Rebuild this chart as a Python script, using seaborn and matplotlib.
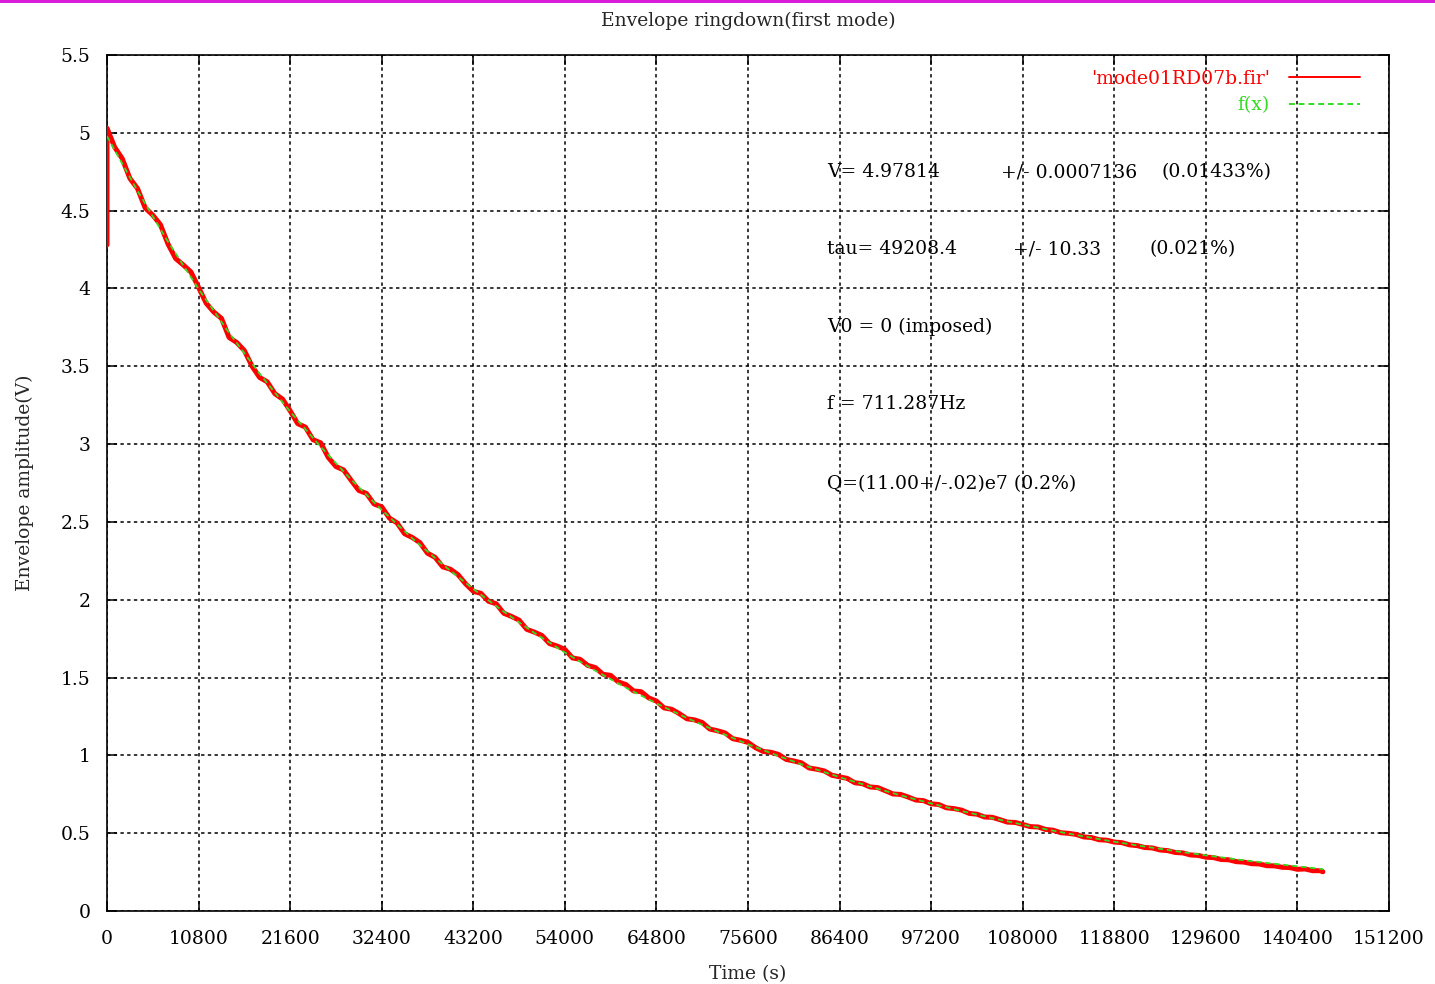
import matplotlib
matplotlib.use("Agg")
import matplotlib.pyplot as plt
from matplotlib.patches import Rectangle
import seaborn as sns
import pandas as pd

# Measured envelope: time (s) and amplitude (V)
time_s = [0, 0, 900, 1800, 2700, 3600, 4500, 5400, 6300, 7200, 8100,
          9000, 9900, 10800, 11700, 12600, 13500, 14400, 15300, 16200, 17100,
          18000, 18900, 19800, 20700, 21600, 22500, 23400, 24300, 25200, 26100,
          27000, 27900, 28800, 29700, 30600, 31500, 32400, 33300, 34200, 35100,
          36000, 36900, 37800, 38700, 39600, 40500, 41400, 42300, 43200, 44100,
          45000, 45900, 46800, 47700, 48600, 49500, 50400, 51300, 52200, 53100,
          54000, 54900, 55800, 56700, 57600, 58500, 59400, 60300, 61200, 62100,
          63000, 63900, 64800, 65700, 66600, 67500, 68400, 69300, 70200, 71100,
          72000, 72900, 73800, 74700, 75600, 76500, 77400, 78300, 79200, 80100,
          81000, 81900, 82800, 83700, 84600, 85500, 86400, 87300, 88200, 89100,
          90000, 90900, 91800, 92700, 93600, 94500, 95400, 96300, 97200, 98100,
          99000, 99900, 100800, 101700, 102600, 103500, 104400, 105300, 106200, 107100,
          108000, 108900, 109800, 110700, 111600, 112500, 113400, 114300, 115200, 116100,
          117000, 117900, 118800, 119700, 120600, 121500, 122400, 123300, 124200, 125100,
          126000, 126900, 127800, 128700, 129600, 130500, 131400, 132300, 133200, 134100,
          135000, 135900, 136800, 137700, 138600, 139500, 140400, 141300, 142200, 143100,
          143400]
amplitude_v = [4.28, 5.03, 4.908, 4.834, 4.707, 4.642, 4.518, 4.471, 4.410, 4.285, 4.192,
               4.151, 4.106, 4.007, 3.905, 3.848, 3.808, 3.685, 3.653, 3.601, 3.501,
               3.428, 3.400, 3.324, 3.289, 3.214, 3.131, 3.109, 3.028, 3.008, 2.914,
               2.856, 2.834, 2.767, 2.702, 2.683, 2.615, 2.597, 2.525, 2.494, 2.424,
               2.400, 2.367, 2.299, 2.272, 2.211, 2.196, 2.161, 2.102, 2.054, 2.041,
               1.990, 1.974, 1.913, 1.893, 1.869, 1.810, 1.792, 1.770, 1.718, 1.702,
               1.681, 1.626, 1.617, 1.578, 1.564, 1.521, 1.514, 1.472, 1.455, 1.414,
               1.409, 1.369, 1.349, 1.305, 1.296, 1.268, 1.235, 1.228, 1.211, 1.169,
               1.158, 1.144, 1.107, 1.097, 1.083, 1.049, 1.025, 1.020, 1.006, 0.974,
               0.964, 0.952, 0.919, 0.911, 0.900, 0.872, 0.862, 0.852, 0.824, 0.818,
               0.797, 0.793, 0.773, 0.752, 0.749, 0.732, 0.713, 0.709, 0.689, 0.684,
               0.663, 0.658, 0.648, 0.627, 0.622, 0.604, 0.602, 0.587, 0.571, 0.569,
               0.556, 0.542, 0.540, 0.524, 0.519, 0.503, 0.499, 0.492, 0.476, 0.472,
               0.458, 0.455, 0.443, 0.439, 0.425, 0.420, 0.408, 0.405, 0.392, 0.388,
               0.376, 0.373, 0.360, 0.357, 0.346, 0.343, 0.331, 0.329, 0.317, 0.314,
               0.304, 0.302, 0.291, 0.290, 0.281, 0.279, 0.268, 0.270, 0.259, 0.259,
               0.252]

# Fitted exponential f(x)
fit_time_s = [0, 3600, 7200, 10800, 14400, 18000, 21600, 25200, 28800, 32400,
              36000, 39600, 43200, 46800, 50400, 54000, 57600, 61200, 64800, 68400,
              72000, 75600, 79200, 82800, 86400, 90000, 93600, 97200, 100800, 104400,
              108000, 111600, 115200, 118800, 122400, 126000, 129600, 133200, 136800, 140400,
              143400]
fit_v = [4.978, 4.627, 4.300, 3.997, 3.715, 3.453, 3.209, 2.983, 2.772, 2.577,
         2.395, 2.226, 2.069, 1.923, 1.787, 1.661, 1.544, 1.435, 1.334, 1.240,
         1.153, 1.071, 0.996, 0.925, 0.860, 0.800, 0.743, 0.691, 0.642, 0.597,
         0.555, 0.516, 0.479, 0.445, 0.414, 0.385, 0.358, 0.332, 0.309, 0.287,
         0.269]

x_ticks = [0, 10800, 21600, 32400, 43200, 54000, 64800, 75600, 86400, 97200,
           108000, 118800, 129600, 140400, 151200]
y_ticks = [0, 0.5, 1, 1.5, 2, 2.5, 3, 3.5, 4, 4.5, 5, 5.5]
y_tick_labels = ["0", "0.5", "1", "1.5", "2", "2.5", "3", "3.5", "4", "4.5", "5", "5.5"]

data_label = "'mode01RD07b.fir'"
fit_label = "f(x)"

fit_notes = [
    ("V= 4.97814", 84900, 4.748),
    ("+/- 0.0007136", 105400, 4.748),
    ("(0.01433%)", 124400, 4.748),
    ("tau= 49208.4", 84900, 4.253),
    ("+/- 10.33", 106850, 4.253),
    ("(0.021%)", 123000, 4.253),
    ("V0 = 0 (imposed)", 84900, 3.752),
    ("f = 711.287Hz", 84900, 3.258),
    ("Q=(11.00+/-.02)e7 (0.2%)", 84900, 2.744),
]

FS = 13.5

sns.set_theme(style="white")
plt.rcParams["font.family"] = ["DejaVu Serif", "DejaVu Sans"]

fig = plt.figure(figsize=(14.35, 9.84), dpi=100)
ax = fig.add_axes([107 / 1435, 1 - 911 / 984, 1282 / 1435, 856 / 984])

meas = pd.DataFrame({"t": time_s, "v": amplitude_v})
fit = pd.DataFrame({"t": fit_time_s, "v": fit_v})

sns.lineplot(data=meas, x="t", y="v", ax=ax, color="#ff0000", lw=3.6,
             estimator=None, sort=False, label=data_label, zorder=3)
sns.lineplot(data=fit, x="t", y="v", ax=ax, color="#33dd22", lw=1.3,
             estimator=None, sort=False, label=fit_label, zorder=4,
             dashes=False, linestyle=(0, (3, 2)))

ax.set_xlim(0, 151200)
ax.set_ylim(0, 5.5)
ax.set_xticks(x_ticks)
ax.set_xticklabels([str(v) for v in x_ticks])
ax.set_yticks(y_ticks)
ax.set_yticklabels(y_tick_labels)

ax.grid(True, color="black", linestyle=(0, (2.2, 2.2)), linewidth=1.1, zorder=1)
ax.set_axisbelow(True)
ax.tick_params(direction="in", length=7, width=1.1, top=True, right=True,
               bottom=True, left=True, labelsize=FS, colors="black")
ax.tick_params(axis="x", pad=14)
ax.tick_params(axis="y", pad=12)
for s in ax.spines.values():
    s.set_color("black")
    s.set_linewidth(1.2)

ax.set_title("Envelope ringdown(first mode)", fontsize=FS, pad=21)
ax.set_xlabel("Time (s)", fontsize=FS, labelpad=12)
ax.set_ylabel("Envelope amplitude(V)", fontsize=FS, labelpad=19)

for txt, xt, yt in fit_notes:
    ax.text(xt, yt, txt, fontsize=FS, ha="left", va="center", color="black", zorder=5)

leg = ax.legend(loc="upper right", bbox_to_anchor=(1253 / 1282, 841 / 856),
                frameon=False, markerfirst=False, borderpad=0, borderaxespad=0,
                handlelength=3.8, handletextpad=1.0, labelspacing=0.45,
                fontsize=FS, labelcolor="linecolor")
for h in leg.get_lines():
    h.set_linewidth(1.4)

# thin magenta strip along the top edge of the window
fig.add_artist(Rectangle((0, 1 - 3 / 984), 1, 3 / 984, transform=fig.transFigure,
                         color="#d81ed8", lw=0))

fig.savefig("out.png", dpi=100, facecolor="white")
